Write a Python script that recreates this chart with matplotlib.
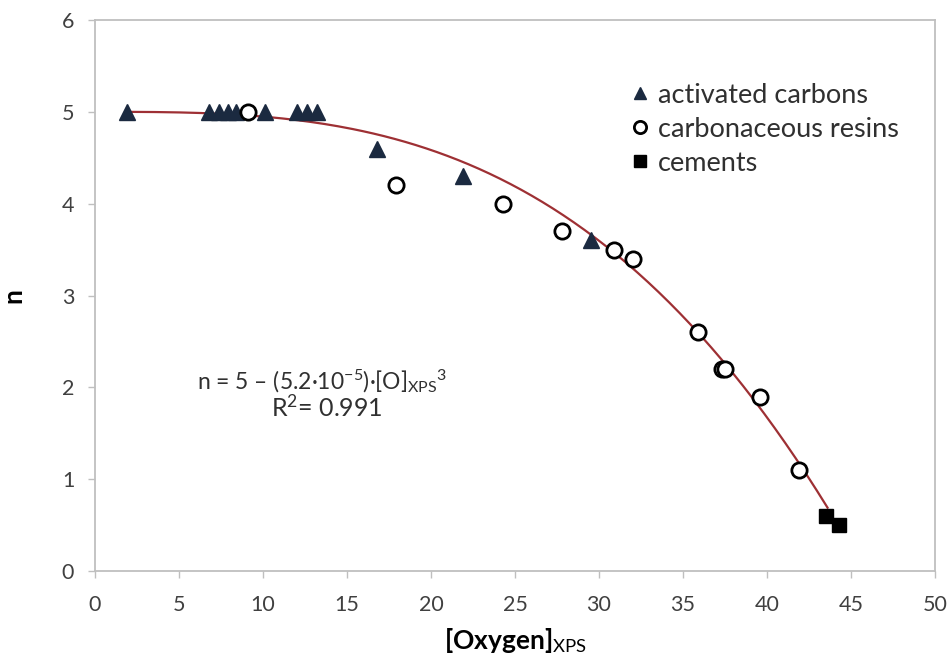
import numpy as np
import matplotlib
matplotlib.use("Agg")
import matplotlib.pyplot as plt

plt.rcParams['font.family'] = ['Lato', 'DejaVu Sans']
plt.rcParams['mathtext.fontset'] = 'custom'
plt.rcParams['mathtext.rm'] = 'Lato'
plt.rcParams['mathtext.it'] = 'Lato:italic'
plt.rcParams['mathtext.bf'] = 'Lato:bold'

# activated carbons
ac_x = [1.9, 6.8, 7.4, 7.9, 8.4, 10.1, 12.0, 12.6, 13.2, 16.8, 21.9, 29.5]
ac_y = [5.0, 5.0, 5.0, 5.0, 5.0, 5.0, 5.0, 5.0, 5.0, 4.6, 4.3, 3.6]

# carbonaceous resins
cr_x = [9.1, 17.9, 24.3, 27.8, 30.9, 32.0, 35.9, 37.3, 37.5, 39.6, 41.9]
cr_y = [5.0, 4.2, 4.0, 3.7, 3.5, 3.4, 2.6, 2.2, 2.2, 1.9, 1.1]

# cements
ce_x = [43.5, 44.3]
ce_y = [0.6, 0.5]

# trend line n = a - b*[O]^3
fit_a = 5.0
fit_b = 5.2e-5
fit_range = (1.9, 43.6)

fig = plt.figure(figsize=(9.52, 6.66), dpi=100)
ax = fig.add_axes([0.0998, 0.1426, 0.8824, 0.8274])

xs = np.linspace(fit_range[0], fit_range[1], 200)
ax.plot(xs, fit_a - fit_b * xs**3, color='#9e3034', lw=1.6, zorder=2)

ax.plot(ac_x, ac_y, '^', ms=11, color='#1b2a40', mec='#1b2a40', ls='none',
        label='activated carbons', zorder=3)
ax.plot(cr_x, cr_y, 'o', ms=11, mfc='white', mec='black', mew=2, ls='none',
        label='carbonaceous resins', zorder=4)
ax.plot(ce_x, ce_y, 's', ms=10, color='black', ls='none',
        label='cements', zorder=3)

ax.set_xlim(0, 50)
ax.set_ylim(0, 6)
ax.set_xticks(range(0, 51, 5))
ax.set_yticks(range(0, 7))
for s in ax.spines.values():
    s.set_color('#bfbfbf')
    s.set_linewidth(1.3)
ax.tick_params(direction='out', length=5, width=1, color='#bfbfbf',
               labelsize=15.5, labelcolor='#404040')
ax.tick_params(axis='x', pad=12)
ax.tick_params(axis='y', pad=10)

ax.set_ylabel('n', fontsize=19, fontweight='bold', labelpad=26)
ax.set_xlabel(r'[Oxygen]$_{\rm XPS}$', fontsize=19, fontweight='bold', labelpad=8)

ax.text(0.27, 0.33, r'n = 5 – (5.2·10$^{-5}$)·[O]$_{\rm XPS}$$^{3}$',
        transform=ax.transAxes, fontsize=16.5, color='#303030', ha='center')
ax.text(0.276, 0.28, r'R$^{2}$= 0.991', transform=ax.transAxes,
        fontsize=18, color='#303030', ha='center')

leg = ax.legend(loc='upper left', bbox_to_anchor=(0.604, 0.93), frameon=False,
                fontsize=19.5, handletextpad=0.15, labelspacing=0.33,
                markerscale=0.8, handlelength=1.0)
for t in leg.get_texts():
    t.set_color('#303030')

fig.savefig('out.png', dpi=100)
